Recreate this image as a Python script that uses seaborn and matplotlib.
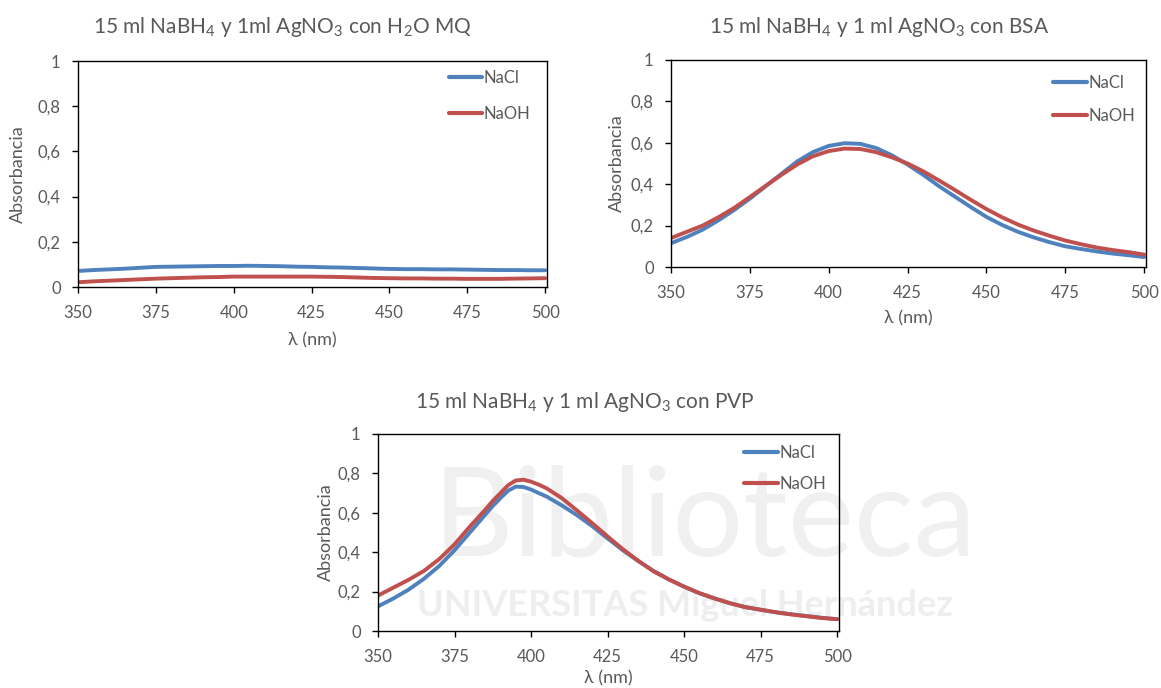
import numpy as np
import pandas as pd
import matplotlib
matplotlib.use("Agg")
import matplotlib.pyplot as plt
import seaborn as sns

sns.set_theme(style="white")
plt.rcParams["font.family"] = ["Lato", "DejaVu Sans"]
plt.rcParams["mathtext.default"] = "regular"

# Wavelength grid (nm)
wavelength = list(range(350, 501, 5))
# finer sampling around the PVP plasmon peak
wavelength_pvp = ([350, 355, 360, 365, 370, 375, 380, 385, 387.5, 390, 392.5, 395,
                   397.5, 400, 402.5, 405] + list(range(410, 501, 5)))

# 15 ml NaBH4 + 1 ml AgNO3 in Milli-Q water
h2o_nacl = [0.071, 0.075, 0.078, 0.081, 0.085, 0.089, 0.090, 0.091, 0.092, 0.093,
            0.093, 0.094, 0.093, 0.092, 0.090, 0.089, 0.087, 0.086, 0.084, 0.082,
            0.080, 0.079, 0.079, 0.078, 0.078, 0.077, 0.076, 0.075, 0.075, 0.074, 0.074]
h2o_naoh = [0.021, 0.025, 0.028, 0.031, 0.034, 0.037, 0.039, 0.041, 0.043, 0.044,
            0.046, 0.046, 0.046, 0.046, 0.046, 0.046, 0.045, 0.044, 0.042, 0.040,
            0.039, 0.038, 0.038, 0.037, 0.037, 0.036, 0.036, 0.036, 0.037, 0.038, 0.039]

# 15 ml NaBH4 + 1 ml AgNO3 with BSA
bsa_nacl = [0.115, 0.145, 0.180, 0.225, 0.275, 0.330, 0.390, 0.450, 0.510, 0.555,
            0.585, 0.598, 0.595, 0.575, 0.540, 0.495, 0.445, 0.390, 0.340, 0.290,
            0.242, 0.203, 0.170, 0.143, 0.120, 0.100, 0.087, 0.075, 0.065, 0.057, 0.048]
bsa_naoh = [0.140, 0.170, 0.200, 0.240, 0.285, 0.338, 0.392, 0.445, 0.495, 0.535,
            0.560, 0.572, 0.570, 0.555, 0.530, 0.500, 0.462, 0.418, 0.372, 0.325,
            0.280, 0.240, 0.205, 0.176, 0.151, 0.128, 0.110, 0.094, 0.082, 0.072, 0.060]

# 15 ml NaBH4 + 1 ml AgNO3 with PVP
pvp_nacl = [0.125, 0.165, 0.210, 0.265, 0.330, 0.410, 0.500, 0.590, 0.635, 0.675,
            0.712, 0.733, 0.731, 0.718, 0.700, 0.683, 0.638, 0.588, 0.532, 0.470,
            0.410, 0.355, 0.305, 0.262, 0.225, 0.192, 0.165, 0.141, 0.121, 0.108,
            0.095, 0.085, 0.076, 0.067, 0.060]
pvp_naoh = [0.180, 0.220, 0.260, 0.305, 0.365, 0.440, 0.530, 0.615, 0.660, 0.700,
            0.740, 0.764, 0.768, 0.758, 0.743, 0.725, 0.675, 0.612, 0.547, 0.480,
            0.415, 0.357, 0.303, 0.262, 0.225, 0.192, 0.165, 0.141, 0.121, 0.108,
            0.095, 0.084, 0.075, 0.066, 0.060]

series_names = ["NaCl", "NaOH"]
titles = [r"15 ml NaBH$_4$ y 1ml AgNO$_3$ con H$_2$O MQ",
          r"15 ml NaBH$_4$ y 1 ml AgNO$_3$ con BSA",
          r"15 ml NaBH$_4$ y 1 ml AgNO$_3$ con PVP"]
x_ticks = [350, 375, 400, 425, 450, 475, 500]
y_ticks = [0, 0.2, 0.4, 0.6, 0.8, 1.0]
y_ticklabels = ["0", "0,2", "0,4", "0,6", "0,8", "1"]

palette = {"NaCl": "#4F81BD", "NaOH": "#C0504D"}
text_grey = "#595959"

W, H = 1161, 688
fig = plt.figure(figsize=(W / 100, H / 100), dpi=100)
fig.patch.set_facecolor("white")

# faint library watermark behind the lower chart
fig.text(705 / W, 1 - 555 / H, "Biblioteca", fontsize=90, color="#f0f0f0",
         ha="center", va="baseline", zorder=-1, family="Lato")
fig.text(685 / W, 1 - 616 / H, "UNIVERSITAS Miguel Hernández", fontsize=26,
         color="#eeeeee", ha="center", va="baseline", zorder=-1, family="Lato",
         fontweight="bold")


def frame(box):
    l, t, r, b = box
    return [l / W, 1 - b / H, (r - l) / W, (b - t) / H]


panels = [
    dict(box=(78, 61, 547, 287), x=wavelength, data=(h2o_nacl, h2o_naoh),
         title_xy=(282, 27), leg=(0.79, 0.96, 1.17), ylab_x=-0.128, xlab_y=-0.234),
    dict(box=(671, 60, 1146, 267), x=wavelength, data=(bsa_nacl, bsa_naoh),
         title_xy=(879, 27), leg=(0.805, 0.927, 0.99), ylab_x=-0.114, xlab_y=-0.246),
    dict(box=(378, 434, 839, 631), x=wavelength_pvp, data=(pvp_nacl, pvp_naoh),
         title_xy=(585, 402), leg=(0.795, 0.944, 0.87), ylab_x=-0.113, xlab_y=-0.239),
]

for p, title in zip(panels, titles):
    ax = fig.add_axes(frame(p["box"]))
    ax.set_facecolor("none")
    xs = list(p["x"])
    df = pd.DataFrame({
        "λ (nm)": xs * 2,
        "Absorbancia": list(p["data"][0]) + list(p["data"][1]),
        "serie": [series_names[0]] * len(xs) + [series_names[1]] * len(xs),
    })
    sns.lineplot(data=df, x="λ (nm)", y="Absorbancia", hue="serie",
                 palette=palette, linewidth=2.8, ax=ax, legend=True)
    for ln in ax.get_lines():
        ln.set_solid_joinstyle("round")
    ax.set_xlim(350, 500.6)
    ax.set_ylim(0, 1)
    ax.set_xticks(x_ticks)
    ax.set_yticks(y_ticks)
    ax.set_yticklabels(y_ticklabels)
    ax.tick_params(axis="both", which="major", direction="out", length=4.5,
                   width=1, color="black", labelsize=12, labelcolor=text_grey,
                   bottom=True, left=True)
    ax.tick_params(axis="x", pad=8.5)
    ax.tick_params(axis="y", pad=8)
    for s in ax.spines.values():
        s.set_color("black")
        s.set_linewidth(1.0)
    ax.set_xlabel("λ (nm)", fontsize=13, color=text_grey)
    ax.set_ylabel("Absorbancia", fontsize=13, color=text_grey)
    ax.xaxis.set_label_coords(0.5, p["xlab_y"])
    ax.yaxis.set_label_coords(p["ylab_x"], 0.5)
    ax.xaxis.label.set_va("center")
    ax.yaxis.label.set_va("center")

    lx, ly, spacing = p["leg"]
    leg = ax.legend(loc="upper left", bbox_to_anchor=(lx, ly), frameon=False,
                    fontsize=12, handlelength=2.0, handletextpad=0.1,
                    labelspacing=spacing, borderpad=0, borderaxespad=0,
                    title=None)
    for t in leg.get_texts():
        t.set_color(text_grey)
    for h in leg.get_lines():
        h.set_linewidth(3)

    fig.text(p["title_xy"][0] / W, 1 - p["title_xy"][1] / H, title,
             fontsize=15, color=text_grey, ha="center", va="center")

fig.savefig("out.png", dpi=100)
